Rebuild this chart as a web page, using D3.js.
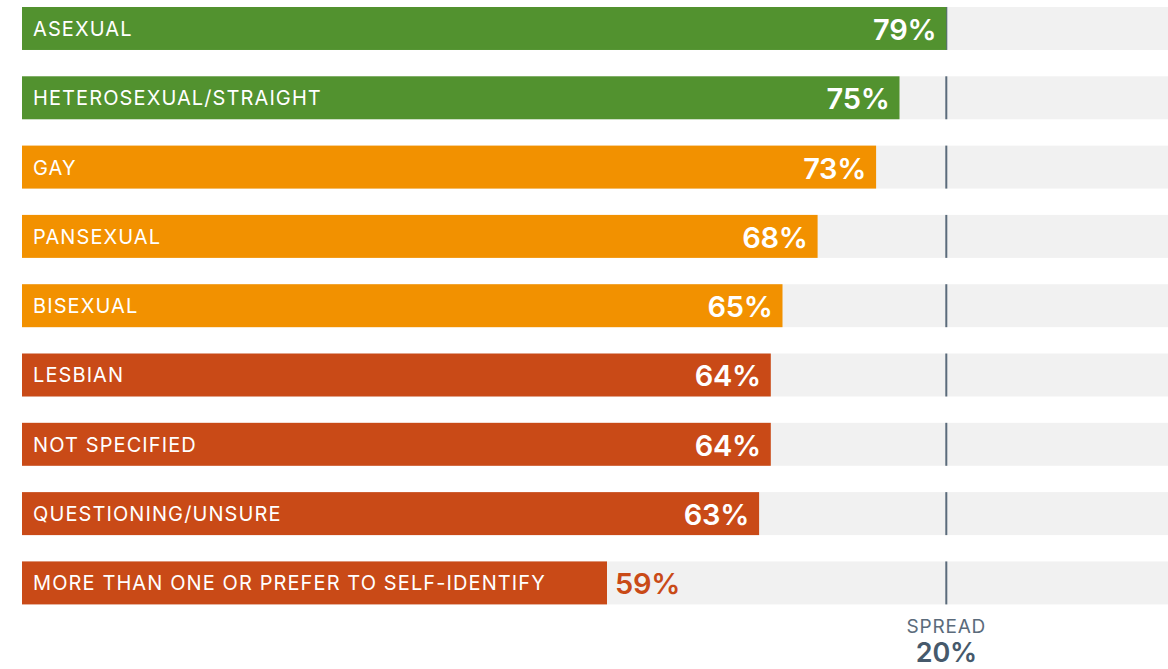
<!DOCTYPE html>
<html><head><meta charset="utf-8">
<script src="https://cdn.jsdelivr.net/npm/d3@7"></script>
<style>
html,body{margin:0;padding:0;background:#fff;}
svg{display:block;}
text{font-family:Inter,"Open Sans",sans-serif;}
</style></head>
<body>
<svg id="chart" width="1168" height="669"></svg>
<script>
const categories = ["ASEXUAL","HETEROSEXUAL/STRAIGHT","GAY","PANSEXUAL","BISEXUAL","LESBIAN","NOT SPECIFIED","QUESTIONING/UNSURE","MORE THAN ONE OR PREFER TO SELF-IDENTIFY"];
const values = [79,75,73,68,65,64,64,63,59];          // labelled percentages
const barValues = [79,75,73,68,65,64,64,63,50];       // bar lengths as drawn in the picture
const groups = ["high","high","mid","mid","mid","low","low","low","low"];
const groupColors = {high:"#52922f", mid:"#f29100", low:"#c94a17"};
const spreadLabel = "SPREAD";

const W = 1168, H = 669;
const svg = d3.select("#chart");
const x = d3.scaleLinear().domain([0,100]).range([22, 1192]);
const y = d3.scaleBand().domain(categories).range([7, 604.4]).paddingInner(0.38).paddingOuter(0);
const bw = y.bandwidth();
const maxV = d3.max(values), minV = d3.min(values);
const spreadX = x(d3.max(barValues));

const rows = svg.selectAll("g.row").data(categories.map((c,i)=>({c, v:values[i], b:barValues[i], g:groups[i], i})))
  .join("g").attr("class","row").attr("transform", d=>`translate(0,${y(d.c)})`);

rows.append("rect").attr("x", x(0)).attr("y",0).attr("width", W - x(0)).attr("height", bw).attr("fill","#f1f1f1");
rows.append("rect").attr("x", spreadX-1).attr("y",0).attr("width",2).attr("height",bw).attr("fill","#5b6b7b");
rows.append("rect").attr("x", x(0)).attr("y",0).attr("width", d=>x(d.b)-x(0)).attr("height", bw).attr("fill", d=>groupColors[d.g]);

const catText = rows.append("text").attr("x", x(0)+11).attr("y", bw/2+7.5)
  .attr("fill","#fff").attr("font-size",20).attr("letter-spacing","1.1px").text(d=>d.c);

rows.each(function(d){
  const g = d3.select(this);
  const catW = g.select("text").node().getComputedTextLength();
  const t = g.append("text").attr("y", bw/2+11.5).attr("font-size",29).attr("font-weight",600).attr("letter-spacing","-0.3px").text(d.v+"%");
  const tw = t.node().getComputedTextLength();
  const end = x(d.b);
  if (end - 10 - tw > x(0)+11+catW+12) {
    t.attr("x", end-10).attr("text-anchor","end").attr("fill","#fff");
  } else {
    t.attr("x", end+8).attr("text-anchor","start").attr("fill", groupColors[d.g]);
  }
});

svg.append("text").attr("x", spreadX).attr("y", 633).attr("text-anchor","middle")
  .attr("font-size",19).attr("letter-spacing","0.8px").attr("fill","#5b6b7b").text(spreadLabel);
svg.append("text").attr("x", spreadX).attr("y", 662).attr("text-anchor","middle")
  .attr("font-size",27).attr("font-weight",600).attr("letter-spacing","-0.3px").attr("fill","#46596b").text((maxV-minV)+"%");
</script>
</body></html>
